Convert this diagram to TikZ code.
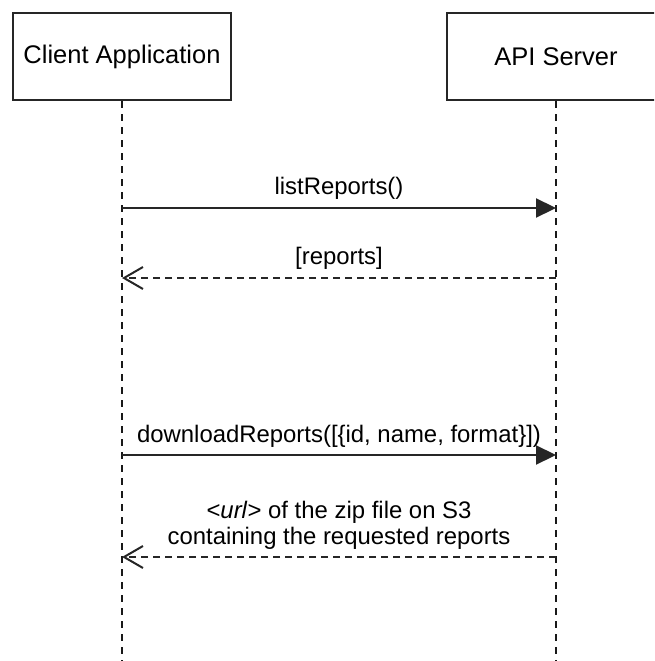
\documentclass[tikz,border=0pt]{standalone}
\usepackage{fontspec}
\setmainfont{Liberation Sans}
\usetikzlibrary{arrows.meta}
\begin{document}
\begin{tikzpicture}[x=1pt,y=-1pt,
  actor/.style={draw=black!85,line width=2.2pt,minimum width=218pt,minimum height=87pt,inner sep=0pt,font=\fontsize{25.5}{30}\selectfont},
  lifeline/.style={draw=black!90,line width=2.2pt,dash pattern=on 7pt off 6pt},
  call/.style={draw=black!85,line width=2.2pt,-{Triangle[length=20pt,width=19pt]}},
  reply/.style={draw=black!85,line width=2.2pt,dash pattern=on 7pt off 5pt,-{Straight Barb[length=19pt,width=22pt,line width=2pt]}},
  lbl/.style={font=\fontsize{23.9}{26}\selectfont,align=center,inner sep=0pt}]
\useasboundingbox (0,0) rectangle (654,661);
\clip (0,0) rectangle (654,661);
\node[actor] (client) at (122,56.5) {Client Application};
\node[actor] (api) at (556,56.5) {API Server};
\coordinate (cend) at (122,661);
\coordinate (aend) at (556,661);
\draw[lifeline] (client.south) -- (cend);
\draw[lifeline] (api.south) -- (aend);
% message anchors
\coordinate (c1) at (122,208); \coordinate (a1) at (556,208);
\coordinate (c2) at (122,278); \coordinate (a2) at (556,278);
\coordinate (c3) at (122,455); \coordinate (a3) at (556,455);
\coordinate (c4) at (122,557); \coordinate (a4) at (556,557);
\draw[call] (c1) -- (a1);
\node[lbl] (l1) at (339,188) {listReports()};
\draw[reply] (a2) -- (c2);
\node[lbl] (l2) at (339,258) {[reports]};
\draw[call] (c3) -- (a3);
\node[lbl] (l3) at (339,436) {downloadReports([\{id, name, format\}])};
\draw[reply] (a4) -- (c4);
\node[lbl] (l4) at (339,525) {<\textit{url}> of the zip file on S3\\containing the requested reports};
\end{tikzpicture}
\end{document}
